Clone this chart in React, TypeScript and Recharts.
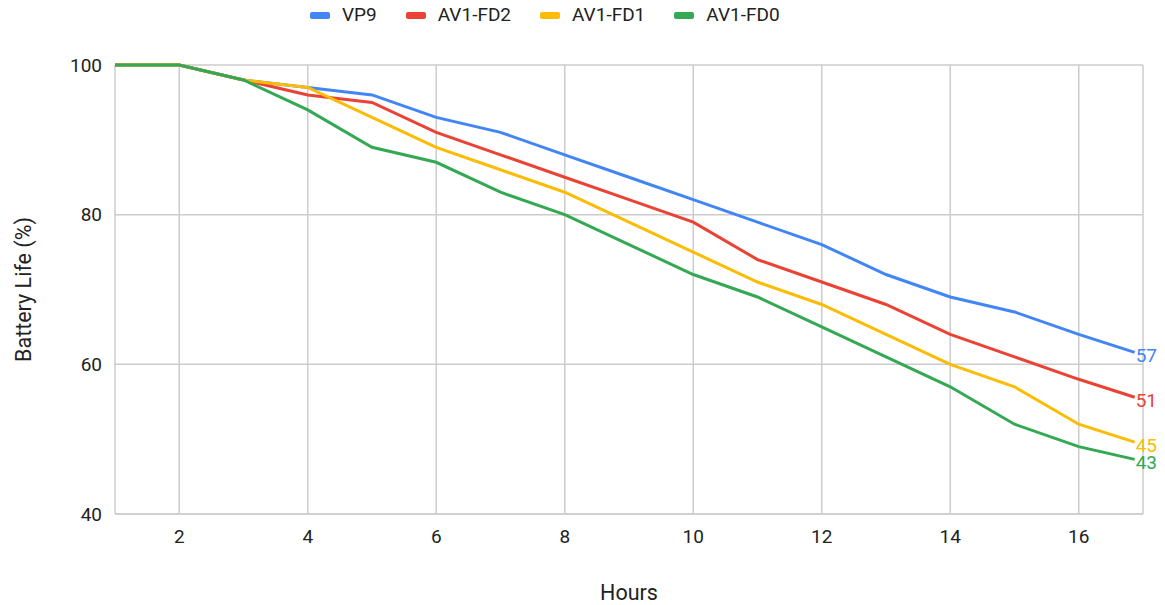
import React from 'react';
import { LineChart, Line, XAxis, YAxis, CartesianGrid, Legend } from 'recharts';

const hours = [1, 2, 3, 4, 5, 6, 7, 8, 9, 10, 11, 12, 13, 14, 15, 16, 16.87];
const vp9 = [100, 100, 98, 97, 96, 93, 91, 88, 85, 82, 79, 76, 72, 69, 67, 64, 61.6];
const fd2 = [100, 100, 98, 96, 95, 91, 88, 85, 82, 79, 74, 71, 68, 64, 61, 58, 55.6];
const fd1 = [100, 100, 98, 97, 93, 89, 86, 83, 79, 75, 71, 68, 64, 60, 57, 52, 49.6];
const fd0 = [100, 100, 98, 94, 89, 87, 83, 80, 76, 72, 69, 65, 61, 57, 52, 49, 47.3];

const seriesKeys = ['vp9', 'fd2', 'fd1', 'fd0'];
const seriesNames = ['VP9', 'AV1-FD2', 'AV1-FD1', 'AV1-FD0'];
const seriesColors = ['#4285F4', '#EA4335', '#FBBC04', '#34A853'];
const endLabels = [57, 51, 45, 43];

const xTicks = [2, 4, 6, 8, 10, 12, 14, 16];
const yTicks = [40, 60, 80, 100];

const data = hours.map((h, i) => ({
  hour: h,
  vp9: vp9[i],
  fd2: fd2[i],
  fd1: fd1[i],
  fd0: fd0[i],
}));

const FONT = 'Roboto, "Noto Sans", sans-serif';
const lastIndex = hours.length - 1;

const renderLegend = () => (
  <div
    style={{
      display: 'flex',
      alignItems: 'center',
      marginLeft: 310,
      fontFamily: FONT,
      fontSize: 19,
      color: '#222',
      lineHeight: '22px',
      height: 22,
    }}
  >
    {seriesNames.map((n, i) => (
      <div key={n} style={{ display: 'flex', alignItems: 'center', marginRight: 29 }}>
        <span
          style={{
            display: 'inline-block',
            width: 20,
            height: 7,
            borderRadius: 2,
            background: seriesColors[i],
            marginRight: 12,
          }}
        />
        <span>{n}</span>
      </div>
    ))}
  </div>
);

const makeEndLabel = (si: number) => (props: any) => {
  const { x, y, index } = props;
  if (index !== lastIndex) return null;
  return (
    <text
      x={x + 1}
      y={y + 5}
      fill={seriesColors[si]}
      fontFamily={FONT}
      fontSize={19}
      dominantBaseline="middle"
      textAnchor="start"
    >
      {endLabels[si]}
    </text>
  );
};

const YLabel = (props: any) => {
  const vb = props.viewBox || {};
  const cx = vb.x + 10;
  const cy = vb.y + vb.height / 2;
  return (
    <text
      x={cx}
      y={cy}
      transform={`rotate(-90, ${cx}, ${cy})`}
      textAnchor="middle"
      dominantBaseline="middle"
      fontFamily={FONT}
      fontSize={21.5}
      fill="#222"
    >
      Battery Life (%)
    </text>
  );
};

const XLabel = (props: any) => {
  const vb = props.viewBox || {};
  return (
    <text
      x={vb.x + vb.width / 2}
      y={vb.y + 80}
      textAnchor="middle"
      dominantBaseline="middle"
      fontFamily={FONT}
      fontSize={21.5}
      fill="#222"
    >
      Hours
    </text>
  );
};

export default function App() {
  return (
    <div style={{ position: 'absolute', left: 0, top: 0, background: '#fff' }}>
      <LineChart
        width={1165}
        height={605}
        data={data}
        margin={{ top: 43, right: 22, bottom: 0, left: 15 }}
      >
        <CartesianGrid stroke="#cccccc" strokeWidth={1.5} horizontal vertical />
        <XAxis
          dataKey="hour"
          type="number"
          domain={[1, 17]}
          ticks={xTicks}
          allowDataOverflow
          height={91}
          tickLine={false}
          tickSize={0}
          tickMargin={14}
          axisLine={{ stroke: '#cccccc', strokeWidth: 1.5 }}
          tick={{ fill: '#222', fontSize: 19, fontFamily: FONT, dy: 2 }}
          label={<XLabel />}
        />
        <YAxis
          type="number"
          domain={[40, 100]}
          ticks={yTicks}
          width={100}
          tickLine={false}
          tickSize={0}
          tickMargin={13}
          axisLine={false}
          tick={{ fill: '#222', fontSize: 19, fontFamily: FONT }}
          label={<YLabel />}
        />
        <Legend verticalAlign="top" content={renderLegend} wrapperStyle={{ top: 4, left: 0, width: 1165 }} />
        {seriesKeys.map((k, i) => (
          <Line
            key={k}
            dataKey={k}
            name={seriesNames[i]}
            type="linear"
            stroke={seriesColors[i]}
            strokeWidth={3}
            dot={false}
            activeDot={false}
            isAnimationActive={false}
            label={makeEndLabel(i)}
          />
        ))}
      </LineChart>
    </div>
  );
}
